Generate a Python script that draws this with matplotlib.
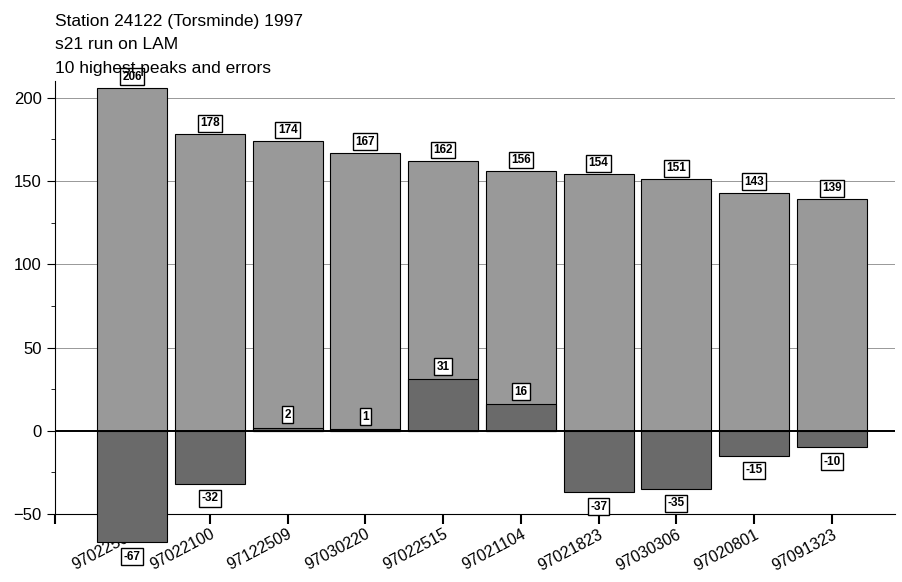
import matplotlib.pyplot as plt
import numpy as np

plt.rcParams['font.family'] = ['Liberation Sans', 'DejaVu Sans']

stations = ['97022509', '97022100', '97122509', '97030220', '97022515',
            '97021104', '97021823', '97030306', '97020801', '97091323']
peaks = [206, 178, 174, 167, 162, 156, 154, 151, 143, 139]
errors = [-67, -32, 2, 1, 31, 16, -37, -35, -15, -10]

fig = plt.figure(figsize=(9.03, 5.82), dpi=100)
ax = fig.add_axes([0.061, 0.045, 0.93, 0.816])
x = np.arange(len(peaks))

ax.bar(x, peaks, width=0.9, color='#999999', edgecolor='black', linewidth=0.8, zorder=2)
ax.bar(x, errors, width=0.9, color='#6a6a6a', edgecolor='black', linewidth=0.8, zorder=3)

box = dict(boxstyle='square,pad=0.2', fc='white', ec='black', lw=1)
for xi, p, e in zip(x, peaks, errors):
    ax.text(xi, p + 3, str(p), ha='center', va='bottom', fontsize=8.5,
            fontweight='bold', bbox=box, zorder=5, clip_on=False)
    if e >= 0:
        ax.text(xi, e + 4, str(e), ha='center', va='bottom', fontsize=8.5,
                fontweight='bold', bbox=box, zorder=5)
    else:
        ax.text(xi, e - 5, str(e), ha='center', va='top', fontsize=8.5,
                fontweight='bold', bbox=box, zorder=5, clip_on=False)

ax.axhline(0, color='black', lw=1.4, zorder=4)
for g in [50, 100, 150, 200]:
    ax.axhline(g, color='#888888', lw=0.6, zorder=1)

ax.set_xlim(-0.99, 9.81)
ax.set_ylim(-75, 210)
ax.spines['top'].set_visible(False)
ax.spines['right'].set_visible(False)
ax.spines['bottom'].set_position(('data', -50))
ax.spines['left'].set_bounds(-50, 210)
ax.set_yticks([-50, 0, 50, 100, 150, 200])
ax.set_yticks(np.arange(-50, 210, 25), minor=True)
ax.tick_params(axis='y', labelsize=12, length=6, direction='out')
ax.tick_params(axis='y', which='minor', length=3)
ax.set_xticks(x)
ax.set_xticks([-0.99], minor=True)
ax.set_xticklabels(stations, rotation=28, ha='right', fontsize=11.5,
                   rotation_mode='anchor')
ax.tick_params(axis='x', which='both', length=7, width=1.5, pad=2)

fig.text(0.061, 0.955, 'Station 24122 (Torsminde) 1997', fontsize=12.5)
fig.text(0.061, 0.915, 's21 run on LAM', fontsize=12.5)
fig.text(0.061, 0.875, '10 highest peaks and errors', fontsize=12.5)

fig.savefig('out.png')
